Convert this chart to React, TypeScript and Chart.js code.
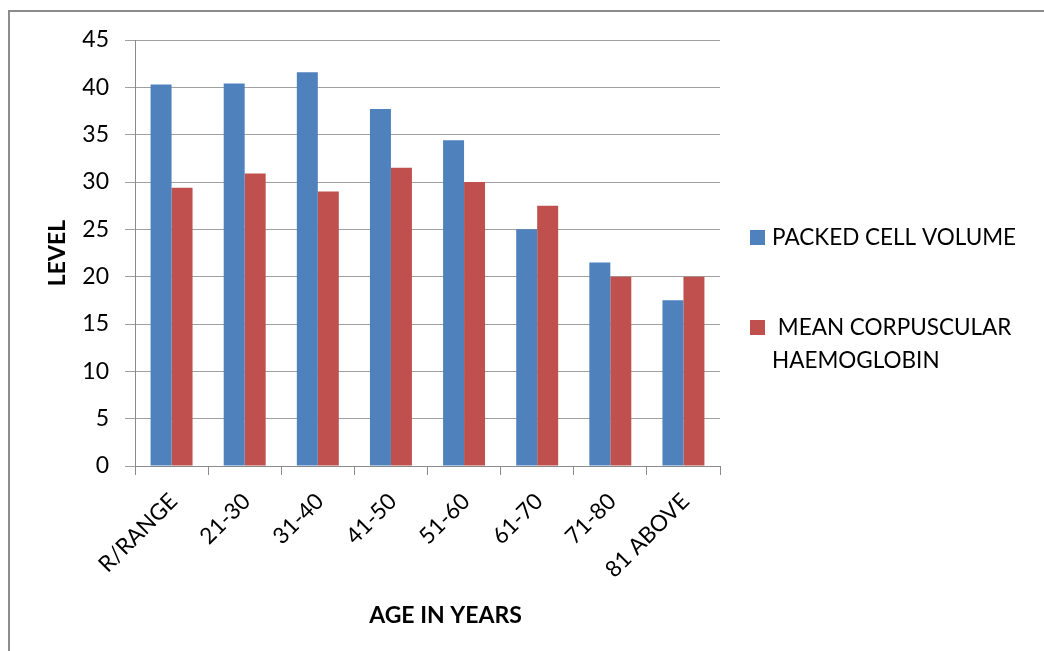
import React, { useEffect, useRef } from "react";
import { Chart, registerables } from "chart.js";

Chart.register(...registerables);

const categories = ["R/RANGE", "21-30", "31-40", "41-50", "51-60", "61-70", "71-80", "81 ABOVE"];
const packedCellVolume = [40.3, 40.4, 41.6, 37.7, 34.4, 25.0, 21.5, 17.5];
const meanCorpuscularHaemoglobin = [29.4, 30.9, 29.0, 31.5, 30.0, 27.5, 20.0, 20.0];
const seriesNames = ["PACKED CELL VOLUME", "MEAN CORPUSCULAR HAEMOGLOBIN"];
const legendLines = [["PACKED CELL VOLUME"], [" MEAN CORPUSCULAR", "HAEMOGLOBIN"]];
const seriesColors = ["#4F81BD", "#C0504D"];
const yMin = 0;
const yMax = 45;
const yStep = 5;
const xTitle = "AGE IN YEARS";
const yTitle = "LEVEL";

const FONT = "Lato, 'Open Sans', sans-serif";

const legendPlugin = {
  id: "sideLegend",
  afterDraw(chart: any) {
    const ctx = chart.ctx;
    const area = chart.chartArea;
    const right = area.right;
    const boxX = right + 30;
    const textX = right + 52;
    const itemTops = [230, 320];
    ctx.save();
    ctx.font = `22.5px ${FONT}`;
    ctx.textBaseline = "middle";
    ctx.textAlign = "left";
    legendLines.forEach((lines, i) => {
      const top = itemTops[i];
      ctx.fillStyle = seriesColors[i];
      ctx.fillRect(boxX, top, 15, 15);
      ctx.fillStyle = "#000";
      lines.forEach((line, j) => {
        ctx.fillText(line, textX, top + 8 + j * 33);
      });
    });
    // x-axis title
    ctx.font = `bold 23px ${FONT}`;
    ctx.textAlign = "center";
    ctx.fillText(xTitle, (area.left + area.right) / 2 + 18, 616);
    ctx.restore();
  },
};

export default function App() {
  const canvasRef = useRef<HTMLCanvasElement | null>(null);

  useEffect(() => {
    const canvas = canvasRef.current;
    if (!canvas) return;
    const chart = new Chart(canvas, {
      type: "bar",
      data: {
        labels: categories,
        datasets: [
          {
            label: seriesNames[0],
            data: packedCellVolume,
            backgroundColor: seriesColors[0],
            barPercentage: 1,
            categoryPercentage: 0.574,
          },
          {
            label: seriesNames[1],
            data: meanCorpuscularHaemoglobin,
            backgroundColor: seriesColors[1],
            barPercentage: 1,
            categoryPercentage: 0.574,
          },
        ],
      },
      options: {
        responsive: false,
        animation: false,
        layout: { padding: { left: 0, top: 40, right: 324, bottom: 0 } },
        plugins: {
          legend: { display: false },
          tooltip: { enabled: false },
        },
        scales: {
          x: {
            grid: {
              display: true,
              drawOnChartArea: false,
              drawTicks: true,
              tickLength: 9,
              color: "#8a8a8a",
              offset: true,
            },
            border: { display: true, color: "#8a8a8a", width: 1 },
            ticks: {
              font: { family: FONT, size: 22.5 },
              color: "#000",
              minRotation: 45,
              maxRotation: 45,
              padding: 13,
              labelOffset: 2,
              autoSkip: false,
            },
            title: { display: false },
            afterFit(scale: any) {
              scale.height = 185;
            },
          },
          y: {
            min: yMin,
            max: yMax,
            ticks: {
              stepSize: yStep,
              font: { family: FONT, size: 23 },
              color: "#000",
              padding: 16,
            },
            grid: {
              color: "#a0a0a0",
              tickLength: 10,
              drawTicks: true,
            },
            border: { display: true, color: "#8a8a8a", width: 1 },
            title: {
              display: true,
              text: yTitle,
              font: { family: FONT, size: 23, weight: "bold" },
              color: "#000",
              padding: { top: 44, bottom: 0 },
            },
            afterFit(scale: any) {
              scale.width = 135;
            },
          },
        },
      },
      plugins: [legendPlugin],
    });
    return () => chart.destroy();
  }, []);

  return (
    <div
      style={{
        position: "fixed",
        left: 0,
        top: 0,
        width: 1044,
        height: 651,
        overflow: "hidden",
        background: "#fff",
      }}
    >
      <div
        style={{
          position: "absolute",
          left: 8,
          top: 10,
          width: 1200,
          height: 800,
          border: "2px solid #8c8c8c",
          boxSizing: "border-box",
        }}
      />
      <canvas
        ref={canvasRef}
        width={1044}
        height={651}
        style={{ position: "absolute", left: 0, top: 0, width: 1044, height: 651 }}
      />
    </div>
  );
}
